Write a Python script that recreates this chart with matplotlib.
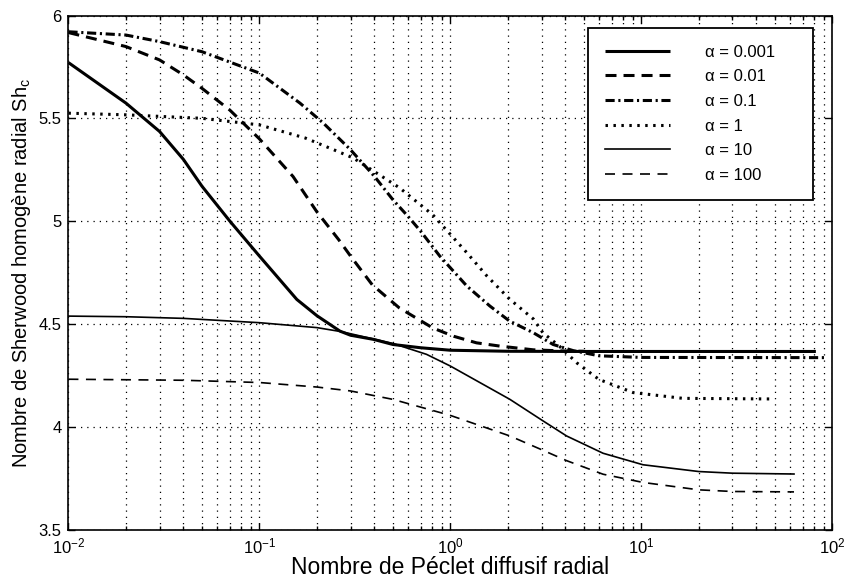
import numpy as np
import matplotlib as mpl
mpl.use('Agg')
import matplotlib.pyplot as plt
from matplotlib.ticker import FixedLocator, FixedFormatter, LogLocator

plt.rcParams['font.family'] = ['Liberation Sans', 'DejaVu Sans']
plt.rcParams['mathtext.fontset'] = 'custom'
plt.rcParams['mathtext.rm'] = 'Liberation Sans'
plt.rcParams['mathtext.it'] = 'Liberation Sans:italic'
plt.rcParams['mathtext.bf'] = 'Liberation Sans:bold'

# values
pe_a0001 = [0.01, 0.02, 0.03, 0.04, 0.05, 0.07, 0.1, 0.157, 0.2, 0.264, 0.3, 0.395, 0.5, 0.7, 1.0, 2, 5, 10, 30, 82]
sh_a0001 = [5.771, 5.574, 5.436, 5.30, 5.17, 5.0, 4.83, 4.619, 4.54, 4.465, 4.445, 4.425, 4.40, 4.384, 4.372, 4.367, 4.366, 4.366, 4.366, 4.366]

pe_a001 = [0.01, 0.02, 0.03, 0.04, 0.05, 0.07, 0.1, 0.15, 0.2, 0.26, 0.3, 0.39, 0.54, 0.81, 1.04, 1.37, 1.82, 2.72, 4, 5]
sh_a001 = [5.917, 5.849, 5.784, 5.711, 5.646, 5.54, 5.40, 5.217, 5.045, 4.91, 4.83, 4.69, 4.578, 4.48, 4.44, 4.408, 4.392, 4.374, 4.368, 4.367]

pe_a01 = [0.01, 0.02, 0.03, 0.05, 0.1, 0.163, 0.216, 0.3, 0.4, 0.5, 0.6, 0.7, 0.88, 1.22, 1.61, 2.04, 2.72, 3.45, 4.4, 6, 10, 93]
sh_a01 = [5.921, 5.905, 5.873, 5.824, 5.72, 5.574, 5.477, 5.347, 5.218, 5.104, 5.023, 4.95, 4.83, 4.684, 4.587, 4.514, 4.457, 4.40, 4.37, 4.345, 4.337, 4.336]

pe_a1 = [0.01, 0.02, 0.05, 0.1, 0.174, 0.245, 0.31, 0.54, 0.81, 1.22, 1.55, 2.04, 2.72, 3.05, 3.72, 4.6, 6.0, 9.06, 16.5, 49]
sh_a1 = [5.525, 5.517, 5.50, 5.468, 5.404, 5.347, 5.307, 5.163, 5.03, 4.846, 4.734, 4.621, 4.524, 4.457, 4.392, 4.31, 4.23, 4.166, 4.138, 4.135]

pe_a10 = [0.01, 0.02, 0.04, 0.1, 0.2, 0.27, 0.5, 0.75, 1.0, 2.05, 3.06, 4.06, 6.3, 10.2, 20, 30, 63]
sh_a10 = [4.538, 4.535, 4.527, 4.506, 4.482, 4.462, 4.405, 4.352, 4.295, 4.133, 4.028, 3.955, 3.871, 3.815, 3.782, 3.774, 3.77]

pe_a100 = [0.01, 0.04, 0.1, 0.2, 0.3, 0.5, 1.0, 2.05, 3.06, 4.06, 6.3, 10.2, 20, 30, 63]
sh_a100 = [4.231, 4.226, 4.215, 4.193, 4.174, 4.133, 4.055, 3.955, 3.885, 3.835, 3.769, 3.729, 3.693, 3.685, 3.683]

labels = ['α = 0.001', 'α = 0.01', 'α = 0.1', 'α = 1', 'α = 10', 'α = 100']

yticks = [3.5, 4, 4.5, 5, 5.5, 6]
ytick_labels = ['3.5', '4', '4.5', '5', '5.5', '6']

fig = plt.figure(figsize=(8.45, 5.81), dpi=100)
ax = fig.add_axes([0.081, 0.0886, 0.904, 0.8847])

ax.plot(pe_a0001, sh_a0001, color='k', lw=2.2, solid_capstyle='butt', label=labels[0])
ax.plot(pe_a001, sh_a001, color='k', lw=2.2, dashes=(3.6, 2.3), label=labels[1])
ax.plot(pe_a01, sh_a01, color='k', lw=2.2, dashes=(3.0, 1.2, 0.7, 1.2), label=labels[2])
ax.plot(pe_a1, sh_a1, color='k', lw=2.2, dashes=(0.8, 1.8), label=labels[3])
ax.plot(pe_a10, sh_a10, color='k', lw=1.2, label=labels[4])
ax.plot(pe_a100, sh_a100, color='k', lw=1.2, dashes=(6, 4.5), label=labels[5])

ax.set_xscale('log')
ax.set_xlim(1e-2, 1e2)
ax.set_ylim(3.5, 6)
ax.xaxis.set_major_locator(LogLocator(base=10, numticks=10))
ax.xaxis.set_minor_locator(LogLocator(base=10, subs=np.arange(2, 10), numticks=50))
ax.yaxis.set_major_locator(FixedLocator(yticks))
ax.yaxis.set_major_formatter(FixedFormatter(ytick_labels))

#matlab style: dotted grid, ticks inside on every side
ax.grid(True, which='major', axis='both', color='k', lw=0.9, ls=(0, (1, 4)))
ax.grid(True, which='minor', axis='x', color='k', lw=0.9, ls=(0, (1, 4)))
ax.tick_params(which='both', direction='in', top=True, right=True, labelsize=12, width=1.0)
ax.tick_params(which='major', length=5, pad=5)
ax.tick_params(which='minor', length=3)
for s in ax.spines.values():
    s.set_linewidth(1.2)

ax.set_xlabel('Nombre de Péclet diffusif radial', fontsize=16.5, labelpad=0)
ax.set_ylabel(r'Nombre de Sherwood homogène radial Sh$_{\rm c}$', fontsize=14.5, labelpad=4)

leg = ax.legend(loc='upper left', bbox_to_anchor=(0.680, 0.645, 0.295, 0.331),
                mode='expand', borderaxespad=0, fontsize=12, fancybox=False,
                framealpha=1, edgecolor='k', handlelength=3.9, handletextpad=2.1,
                borderpad=1.0, labelspacing=0.58)
leg.get_frame().set_linewidth(1.3)

fig.savefig('out.png', dpi=100)
